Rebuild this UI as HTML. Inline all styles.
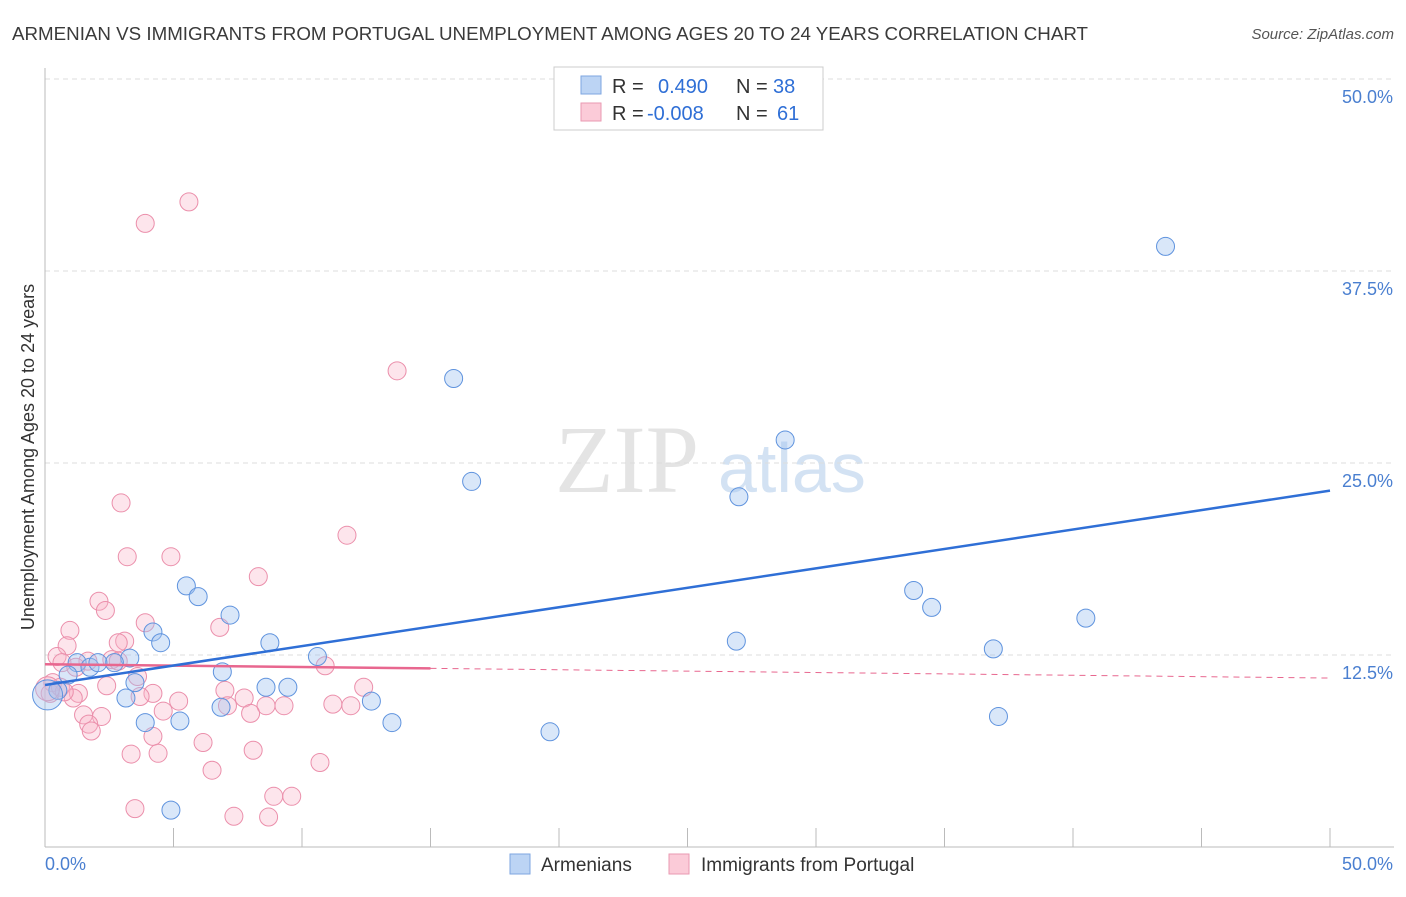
<!DOCTYPE html>
<html><head><meta charset="utf-8"><style>
body{margin:0;background:#fff;font-family:"Liberation Sans",sans-serif;}
</style></head><body>
<svg width="1406" height="892" xmlns="http://www.w3.org/2000/svg" font-family="Liberation Sans, sans-serif">
<text x="12" y="40" font-size="18" fill="#3a3a3a" textLength="1076" lengthAdjust="spacingAndGlyphs">ARMENIAN VS IMMIGRANTS FROM PORTUGAL UNEMPLOYMENT AMONG AGES 20 TO 24 YEARS CORRELATION CHART</text>
<text x="1394" y="39" font-size="15" fill="#555" font-style="italic" text-anchor="end">Source: ZipAtlas.com</text>
<text x="555" y="492" font-size="96" fill="#e4e4e4" font-family="Liberation Serif, serif">ZIP</text>
<text x="718" y="492" font-size="70" fill="#d3e2f3">atlas</text>
<g id="grid"></g>
<g id="axes"></g>
<g id="marks"></g>
<text transform="translate(34,457) rotate(-90)" font-size="18" fill="#333" text-anchor="middle">Unemployment Among Ages 20 to 24 years</text>
<g>
<rect x="554" y="67" width="269" height="63" fill="#fff" stroke="#ccc"/>
<rect x="581" y="76" width="20" height="18" fill="#bcd4f4" stroke="#7ea6e0"/>
<rect x="581" y="103" width="20" height="18" fill="#fbcbd8" stroke="#ea9ab2"/>
<text x="612" y="93" font-size="20" fill="#333">R =<tspan x="658" fill="#2f6fd6">0.490</tspan><tspan x="736" fill="#333">N =</tspan><tspan x="773" fill="#2f6fd6">38</tspan></text>
<text x="612" y="120" font-size="20" fill="#333">R =<tspan x="647" fill="#2f6fd6">-0.008</tspan><tspan x="736" fill="#333">N =</tspan><tspan x="777" fill="#2f6fd6">61</tspan></text>
</g>
<g>
<rect x="510" y="854" width="20" height="20" fill="#bcd4f4" stroke="#7ea6e0"/>
<text x="541" y="871" font-size="19" fill="#333">Armenians</text>
<rect x="669" y="854" width="20" height="20" fill="#fbcbd8" stroke="#ea9ab2"/>
<text x="701" y="871" font-size="19" fill="#333">Immigrants from Portugal</text>
</g>
</svg>
<script>
const yTicks=[12.5,25,37.5,50];
const yTickLabels=["12.5%","25.0%","37.5%","50.0%"];
const xTickLabels=["0.0%","50.0%"];
const armX=[43.6,15.9,28.8,16.6,27.0,5.5,5.96,7.2,33.8,34.5,40.5,4.2,4.5,8.75,26.9,36.9,10.6,3.3,2.7,1.25,1.75,2.06,0.9,6.9,3.5,0.5,8.6,9.45,3.15,12.7,6.85,3.9,5.25,13.5,19.65,37.1,4.9,0.1];
const armY=[39.1,30.5,26.5,23.8,22.8,17.0,16.3,15.1,16.7,15.6,14.9,14.0,13.3,13.3,13.4,12.9,12.4,12.3,12.0,12.0,11.7,12.0,11.2,11.4,10.7,10.2,10.4,10.4,9.7,9.5,9.1,8.1,8.2,8.1,7.5,8.5,2.4,9.9];
const porX=[5.6,3.9,13.7,2.96,11.75,3.2,4.9,8.3,2.1,2.35,3.9,6.8,0.97,3.1,2.85,0.86,0.47,0.66,1.67,2.6,10.9,3.6,2.4,12.4,0.3,0.2,1.3,1.1,4.2,7.0,7.75,5.2,3.7,7.1,8.6,9.3,11.2,11.9,4.6,1.5,2.2,8.0,1.7,1.8,4.2,6.15,8.1,3.35,4.4,6.5,10.7,3.5,8.9,9.6,7.35,8.7,2.85,1.2,0.6,0.75,0.1];
const porY=[42.0,40.6,31.0,22.4,20.3,18.9,18.9,17.6,16.0,15.4,14.6,14.3,14.1,13.4,13.3,13.1,12.4,12.0,12.1,12.2,11.8,11.1,10.5,10.4,10.7,10.0,10.0,9.7,10.0,10.2,9.7,9.5,9.8,9.2,9.2,9.2,9.3,9.2,8.85,8.6,8.5,8.7,8.0,7.55,7.2,6.8,6.3,6.05,6.1,5.0,5.5,2.5,3.3,3.3,2.0,1.95,12.1,11.7,10.4,10.1,10.3];
const armTrend=[10.55,23.2];
const porTrend=[11.9,11.0];
const porSolidEnd=15;
const NS="http://www.w3.org/2000/svg";
const X0=45,X1=1330,Y0=847,Y50=79;
function sx(v){return X0+(X1-X0)*v/50;}
function sy(v){return Y0-(Y0-Y50)*v/50;}
function mk(tag,at,parent){const e=document.createElementNS(NS,tag);for(const k in at)e.setAttribute(k,at[k]);document.getElementById(parent).appendChild(e);return e;}
yTicks.forEach((t,i)=>{
 const g=mk('line',{x1:X0,x2:1394,y1:sy(t),y2:sy(t),stroke:'#ddd','stroke-dasharray':'5,4'},'grid');
 
 
 const l=mk('text',{x:1393,y:sy(t)+24,'font-size':18,fill:'#4a7fd0','text-anchor':'end'},'grid');
 l.textContent=yTickLabels[i];
 
 
});
const ax=mk('line',{x1:X0,x2:X0,y1:68,y2:Y0,stroke:'#bbb'},'axes');


const bx=mk('line',{x1:X0,x2:1394,y1:Y0,y2:Y0,stroke:'#bbb'},'axes');


for(let i=1;i<=10;i++){
 const t=mk('line',{x1:sx(i*5),x2:sx(i*5),y1:828,y2:Y0,stroke:'#bbb'},'axes');
 
 
}
[[0,'start',45],[50,'end',1393]].forEach((a,i)=>{
 const l=mk('text',{x:a[2],y:870,'font-size':18,fill:'#4a7fd0','text-anchor':a[1]},'axes');
 l.textContent=xTickLabels[i];
 
 
});
porX.forEach((x,i)=>{
 const c=mk('circle',{cx:sx(x),cy:sy(porY[i]),r:i==porX.length-1?12:9,fill:'rgba(248,180,200,0.35)',stroke:'#eb8fab','stroke-width':1},'marks');
 
 
});
armX.forEach((x,i)=>{
 const c=mk('circle',{cx:sx(x),cy:sy(armY[i]),r:i==armX.length-1?15:9,fill:'rgba(160,195,240,0.4)',stroke:'#5f93de','stroke-width':1},'marks');
 
 
});
const pm=porTrend[0]+(porTrend[1]-porTrend[0])*porSolidEnd/50;
const p1=mk('line',{x1:sx(0),y1:sy(porTrend[0]),x2:sx(porSolidEnd),y2:sy(pm),stroke:'#e8678f','stroke-width':2.5},'marks');


const p2=mk('line',{x1:sx(porSolidEnd),y1:sy(pm),x2:sx(50),y2:sy(porTrend[1]),stroke:'#e8678f','stroke-width':1,'stroke-dasharray':'6,5'},'marks');


const b=mk('line',{x1:sx(0),y1:sy(armTrend[0]),x2:sx(50),y2:sy(armTrend[1]),stroke:'#2f6fd6','stroke-width':2.5},'marks');


</script>
</body></html>
